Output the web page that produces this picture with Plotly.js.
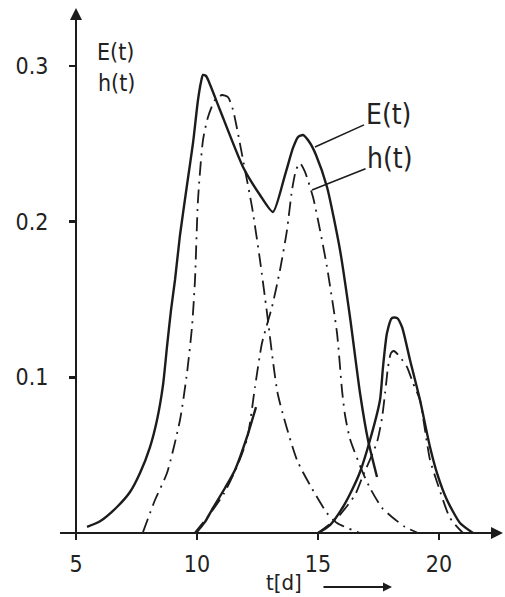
<!DOCTYPE html>
<html>
<head>
<meta charset="utf-8">
<script src="https://cdn.plot.ly/plotly-3.0.1.min.js"></script>
<style>html,body{margin:0;padding:0;background:#fff;}#chart{width:505px;height:597px;}</style>
</head>
<body>
<div id="chart"></div>
<script>
// ---- data ----
const tTicks = [5, 10, 15, 20];
const tTickText = ["5", "10", "15", "20"];
const vTicks = [0.1, 0.2, 0.3];
const vTickText = ["0.1", "0.2", "0.3"];

// E(t) solid curves
const E1_t = [5.455,5.992,6.694,7.231,7.645,8.058,8.347,8.595,8.760,8.926,9.091,9.298,9.587,9.835,10.041,10.165,10.248,10.372,10.496,10.950,11.901,12.603,13.140,13.636,13.967,14.174,14.380,14.669,14.917,15.372,15.909,16.322,16.736,17.066,17.438];
const E1_v = [0.0039,0.0075,0.0167,0.0263,0.0385,0.0552,0.0726,0.0950,0.1195,0.1432,0.1625,0.1914,0.2235,0.2505,0.2781,0.2897,0.2942,0.2935,0.2897,0.2717,0.2351,0.2171,0.2062,0.2299,0.2473,0.2543,0.2556,0.2505,0.2428,0.2222,0.1818,0.1387,0.0899,0.0597,0.0360];
const E2_t = [9.959,10.331,10.661,11.157,11.570,12.066,12.438];
const E2_v = [0.0,0.0071,0.0161,0.0289,0.0405,0.0617,0.0809];
const E3_t = [15.0,15.496,16.033,16.405,16.736,17.149,17.562,17.686,17.851,18.058,18.264,18.471,18.802,19.215,19.628,19.917,20.331,20.868,21.405];
const E3_v = [0.0,0.0051,0.0167,0.0276,0.0392,0.0597,0.0854,0.1066,0.1285,0.1381,0.1381,0.1323,0.1111,0.0854,0.0552,0.0385,0.0212,0.0064,0.0];

// h(t) dash-dot curves
const h1_t = [7.769,8.264,8.760,9.298,9.587,9.793,9.917,10.041,10.248,10.455,10.744,11.033,11.281,11.488,11.983,12.273,12.603,12.893,13.347,14.132,14.669,15.372,15.785,16.736];
const h1_v = [0.0006,0.0212,0.0385,0.0726,0.1028,0.1323,0.1625,0.2139,0.2524,0.2672,0.2781,0.2813,0.2800,0.2717,0.2331,0.2094,0.1753,0.1413,0.0886,0.0469,0.0308,0.0128,0.0064,0.0];
const h2_t = [9.900,10.500,11.120,11.660,12.080,12.397,12.686,13.099,13.430,13.719,13.926,14.091,14.256,14.463,14.793,15.083,15.372,15.785,15.992,16.116,16.322,16.860,17.149,17.645,18.058,18.595,19.132];
const h2_v = [0.0,0.0115,0.0255,0.0430,0.0610,0.0938,0.1220,0.1452,0.1689,0.1946,0.2203,0.2331,0.2376,0.2319,0.2158,0.1946,0.1708,0.1285,0.0918,0.0758,0.0604,0.0385,0.0289,0.0161,0.0103,0.0039,0.0];
const h3_t = [15.0,15.785,16.529,16.818,17.438,17.645,17.810,17.893,18.017,18.140,18.388,18.678,18.926,19.215,19.421,19.628,19.917,20.455,20.990];
const h3_v = [0.0,0.0096,0.0244,0.0353,0.0584,0.0739,0.0951,0.1066,0.1156,0.1169,0.1130,0.1066,0.0963,0.0854,0.0662,0.0469,0.0328,0.0096,0.0];

// ---- drawing ----
const ink = '#1c1c1c';
const solid = {color: ink, width: 2.4, shape: 'spline', smoothing: 0.6};
const dashdot = {color: ink, width: 1.8, dash: '14px,6px,2px,6px', shape: 'spline', smoothing: 0.6};

function tr(x, y, line) {
  return {x: x, y: y, type: 'scatter', mode: 'lines', line: line, hoverinfo: 'skip', showlegend: false};
}
const traces = [
  tr(h1_t, h1_v, dashdot),
  tr(h2_t, h2_v, dashdot),
  tr(h3_t, h3_v, dashdot),
  tr(E1_t, E1_v, solid),
  tr(E2_t, E2_v, solid),
  tr(E3_t, E3_v, solid)
];

const font = 'DejaVu Sans Condensed, DejaVu Sans, Liberation Sans, sans-serif';
const txt = '#222';
const layout = {
  width: 505, height: 597,
  margin: {l: 60, r: 5, t: 10, b: 57},
  paper_bgcolor: '#ffffff', plot_bgcolor: '#ffffff',
  showlegend: false,
  xaxis: {
    range: [4.3388, 22.5207], anchor: 'free', position: 0.013208,
    showgrid: false, zeroline: false, showline: true, linecolor: ink, linewidth: 2,
    ticks: 'outside', ticklen: 6, tickwidth: 2.5, tickcolor: ink,
    tickvals: tTicks, ticktext: tTickText, ticklabelstandoff: 4,
    tickfont: {family: font, size: 23, color: txt}
  },
  yaxis: {
    range: [-0.004496, 0.33590], anchor: 'free', position: 0.03636,
    showgrid: false, zeroline: false, showline: true, linecolor: ink, linewidth: 2,
    ticks: 'outside', ticklen: 6, tickwidth: 2.5, tickcolor: ink,
    tickvals: vTicks, ticktext: vTickText, ticklabelstandoff: 16,
    tickfont: {family: font, size: 23, color: txt}
  },
  annotations: [
    // axis arrowheads
    {xref: 'paper', yref: 'paper', x: 1.0068, y: 0.013208, ax: -24, ay: 0, text: '', showarrow: true,
     arrowhead: 2, arrowsize: 1.2, arrowwidth: 2, arrowcolor: ink},
    {xref: 'paper', yref: 'paper', x: 0.03636, y: 1.0038, ax: 0, ay: 24, text: '', showarrow: true,
     arrowhead: 2, arrowsize: 1.2, arrowwidth: 2, arrowcolor: ink},
    // t[d] label with arrow
    {xref: 'paper', yref: 'paper', x: 0.509, y: -0.1057, xanchor: 'center', yanchor: 'bottom',
     text: 't[d]', showarrow: false, borderpad: 0, font: {family: font, size: 22, color: txt}},
    {xref: 'paper', yref: 'paper', x: 0.7545, y: -0.0887, ax: -70, ay: 0, text: '', showarrow: true,
     arrowhead: 2, arrowsize: 1, arrowwidth: 1.8, arrowcolor: ink},
    // axis title at top left
    {xref: 'paper', yref: 'paper', x: 0.1250, y: 0.921, xanchor: 'center', yanchor: 'middle',
     text: 'E(t)', showarrow: false, font: {family: font, size: 23, color: txt}},
    {xref: 'paper', yref: 'paper', x: 0.1295, y: 0.862, xanchor: 'center', yanchor: 'middle',
     text: 'h(t)', showarrow: false, font: {family: font, size: 23, color: txt}},
    // curve labels with leader lines
    {xref: 'x', yref: 'y', x: 14.876, y: 0.2479, ax: 73, ay: -33, text: 'E(t)', showarrow: true,
     arrowhead: 0, arrowwidth: 1.6, arrowcolor: ink, standoff: 0,
     font: {family: font, size: 28, color: txt}},
    {xref: 'x', yref: 'y', x: 14.752, y: 0.2203, ax: 78, ay: -31, text: 'h(t)', showarrow: true,
     arrowhead: 0, arrowwidth: 1.6, arrowcolor: ink, standoff: 0,
     font: {family: font, size: 28, color: txt}}
  ]
};

Plotly.newPlot('chart', traces, layout, {staticPlot: true, displayModeBar: false});
</script>
</body>
</html>
